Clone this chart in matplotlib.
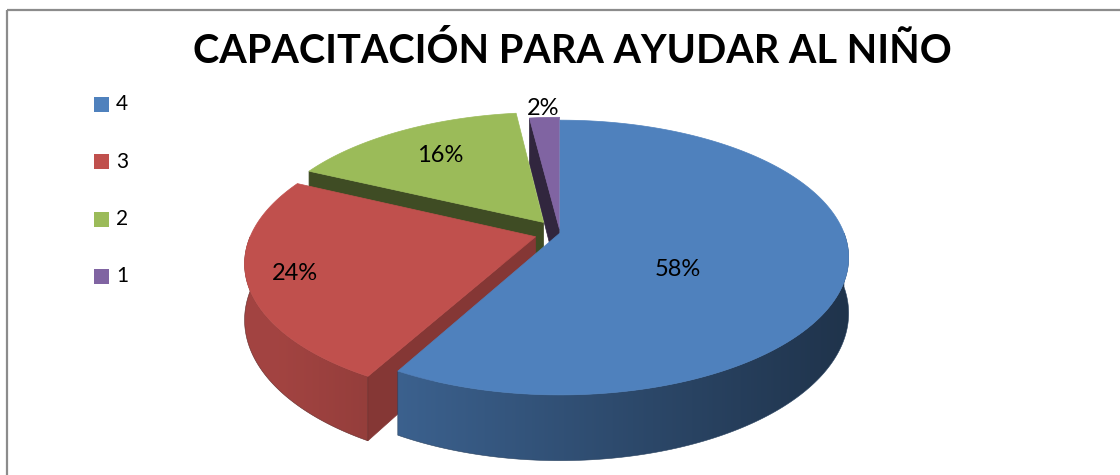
import numpy as np
import matplotlib
matplotlib.use("Agg")
import matplotlib.pyplot as plt
from matplotlib.colors import to_rgb
from matplotlib.patches import Polygon, Rectangle

# ── data ─────────────────────────────────────────────────────────────────────
title = "CAPACITACIÓN PARA AYUDAR AL NIÑO"
categories = ["4", "3", "2", "1"]
values = [58, 24, 16, 2]
colors = ["#4F81BD", "#C0504D", "#9BBB59", "#8064A2"]
explode = [0.0, 0.09, 0.10, 0.03]
label_radius = [0.42, 0.84, 0.70, 1.10]
label_drop = [0.4, 0.0, 0.0, 0.0]   # push label down the wall a little

plt.rcParams["font.family"] = ["Lato", "DejaVu Sans"]

# ── fake 3D view (pixel space) ───────────────────────────────────────────────
CX, CY = 560, 233      # centre of top face
R, RB = 284, 133       # half width / half depth of the disc
H = 54                 # wall height
D = 5.6                # perspective distance


def proj(x, v, depth=0.0):
    # x: right, v: toward viewer, depth: 0 top face -> 1 bottom
    s = D / (D - v)
    return CX + R * x * s, CY + RB * v * s + H * depth * s


def shade(c, f):
    return tuple(np.clip(np.array(to_rgb(c)) * f, 0, 1))


fig = plt.figure(figsize=(11.2, 4.75), dpi=100)
ax = fig.add_axes([0, 0, 1, 1])
ax.set_xlim(0, 1120)
ax.set_ylim(475, 0)
ax.axis("off")

ax.add_patch(Rectangle((7, 10), 1300, 700, fill=False, edgecolor="#8c8c8c", lw=1.6))

frac = np.array(values, dtype=float) / sum(values)
bounds = np.concatenate([[0.0], np.cumsum(frac)]) * 2 * np.pi

# draw back slices first (purple, green, red, blue)
for i in reversed(range(len(values))):
    t0, t1 = bounds[i], bounds[i + 1]
    mid = 0.5 * (t0 + t1)
    ox, ov = explode[i] * np.sin(mid), -explode[i] * np.cos(mid)
    col = colors[i]

    def rim(th, depth=0.0):
        return proj(ox + np.sin(th), ov - np.cos(th), depth)

    apex_top, apex_bot = proj(ox, ov, 0), proj(ox, ov, 1)

    # cut faces
    for th, nx, visible in [(t0, -np.cos(t0), np.sin(t0) < -1e-6),
                            (t1, np.cos(t1), np.sin(t1) > 1e-6)]:
        if visible:
            f = max(0.38, 0.5 + 0.22 * nx)
            ax.add_patch(Polygon([apex_top, rim(th, 0), rim(th, 1), apex_bot],
                                 closed=True, facecolor=shade(col, f),
                                 edgecolor=shade(col, f), lw=0.5))

    # outer wall, front half only, with left-to-right gradient
    a, b = max(t0, np.pi / 2), min(t1, 1.5 * np.pi)
    if a < b:
        ths = np.linspace(a, b, 120)
        wall = [rim(th, 0) for th in ths] + [rim(th, 1) for th in ths[::-1]]
        wall_patch = Polygon(wall, closed=True, facecolor="none", edgecolor="none")
        ax.add_patch(wall_patch)
        xs = np.array([p[0] for p in wall])
        ys = np.array([p[1] for p in wall])
        x0, x1 = xs.min() - 2, xs.max() + 2
        cols = np.linspace(x0, x1, 256)
        sx = np.clip((cols - CX) / R, -1, 1)
        f = 0.623 - 0.223 * sx
        img = np.array([shade(col, ff) for ff in f])[None, :, :]
        im = ax.imshow(img, extent=(x0, x1, ys.max() + 2, ys.min() - 2),
                       aspect="auto", interpolation="bilinear", zorder=1)
        im.set_clip_path(wall_patch)
        edge = Polygon(wall, closed=True, facecolor="none",
                       edgecolor=shade(col, 0.5), lw=0.4, zorder=1)
        ax.add_patch(edge)

    # top face
    ths = np.linspace(t0, t1, 200)
    pts = [apex_top] + [rim(th) for th in ths]
    ax.add_patch(Polygon(pts, closed=True, facecolor=col, edgecolor=col, lw=0.5, zorder=1))

# percentage labels
for i in range(len(values)):
    t0, t1 = bounds[i], bounds[i + 1]
    mid = 0.5 * (t0 + t1)
    ox, ov = explode[i] * np.sin(mid), -explode[i] * np.cos(mid)
    r = label_radius[i]
    lx, ly = proj(ox + r * np.sin(mid), ov - r * np.cos(mid), label_drop[i])
    ax.text(lx, ly, f"{values[i]}%", ha="center", va="center", fontsize=17,
            color="black", zorder=5)

# title
ax.text(572, 63, title, ha="center", va="baseline", fontsize=28.5,
        fontweight="bold", color="black")

# legend
for j, (cat, col) in enumerate(zip(categories, colors)):
    y = 104.5 + j * 57.3
    ax.add_patch(Rectangle((94, y - 7.5), 15, 15, facecolor=col, edgecolor="none"))
    ax.text(116, y, cat, ha="left", va="center", fontsize=15, color="black")

fig.savefig("out.png", dpi=100, facecolor="white")
